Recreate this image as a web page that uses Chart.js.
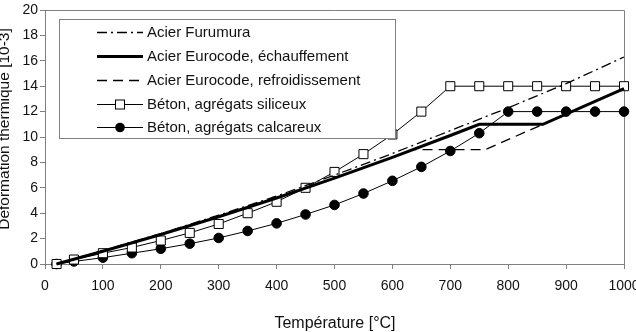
<!DOCTYPE html>
<html>
<head>
<meta charset="utf-8">
<script src="https://cdn.jsdelivr.net/npm/chart.js@4/dist/chart.umd.min.js"></script>
<style>
  body { margin: 0; background: #fff; }
  #wrap { width: 636px; height: 332px; }
</style>
</head>
<body>
<div id="wrap"><canvas id="chart" width="636" height="332"></canvas></div>
<script>
// data (deformation in 10^-3, temperature in °C)
const furumuraT = [20, 100, 200, 300, 400, 500, 600, 700, 800, 900, 1000];
const furumuraVal = [0, 1.05, 2.4, 3.85, 5.35, 7.0, 8.7, 10.5, 12.3, 14.2, 16.3];

const heatT = [20, 100, 200, 300, 400, 500, 600, 700, 750, 860, 1000];
const heatVal = [0, 1.0, 2.32, 3.72, 5.2, 6.76, 8.4, 10.12, 11.0, 11.0, 13.8];

const coolT = [20, 100, 200, 300, 400, 500, 600, 636, 760, 860, 1000];
const coolVal = [0, 1.0, 2.32, 3.72, 5.2, 6.76, 8.4, 9.0, 9.0, 11.0, 13.8];

const betonT = [20, 50, 100, 150, 200, 250, 300, 350, 400, 450, 500, 550, 600, 650, 700, 750, 800, 850, 900, 950, 1000];
const siliceuxVal = [0, 0.35, 0.85, 1.3, 1.85, 2.45, 3.15, 4.0, 4.9, 6.0, 7.25, 8.65, 10.2, 12.0, 14, 14, 14, 14, 14, 14, 14];
const calcaireVal = [0, 0.2, 0.5, 0.85, 1.2, 1.6, 2.05, 2.6, 3.2, 3.9, 4.65, 5.55, 6.55, 7.65, 8.9, 10.3, 12, 12, 12, 12, 12];

const legendLabels = [
    'Acier Furumura',
    'Acier Eurocode, échauffement',
    'Acier Eurocode, refroidissement',
    'Béton, agrégats siliceux',
    'Béton, agrégats calcareux'
];

const FONT = '"Liberation Sans", Arial, sans-serif';
const AXIS_GREY = '#808080';

function toPoints(xs, ys) {
    return xs.map((x, i) => ({ x: x, y: ys[i] }));
}

function makeLine(label, xs, ys, extra) {
    return Object.assign({
        label: label,
        data: toPoints(xs, ys),
        borderColor: '#000',
        backgroundColor: '#000',
        borderWidth: 1,
        pointRadius: 0,
        tension: 0,
        fill: false,
        clip: false
    }, extra);
}

const datasets = [
    makeLine(legendLabels[0], furumuraT, furumuraVal, { borderDash: [10, 4, 2, 4], borderWidth: 1.3 }),
    makeLine(legendLabels[1], heatT, heatVal, { borderWidth: 3 }),
    makeLine(legendLabels[2], coolT, coolVal, { borderDash: [10, 6], borderWidth: 1.3 }),
    makeLine(legendLabels[3], betonT, siliceuxVal, {
        pointStyle: 'rect', pointRadius: 6.4, pointBackgroundColor: '#fff',
        pointBorderColor: '#000', pointBorderWidth: 1
    }),
    makeLine(legendLabels[4], betonT, calcaireVal, {
        pointStyle: 'circle', pointRadius: 4.8, pointBackgroundColor: '#000',
        pointBorderColor: '#000', pointBorderWidth: 1
    })
];

// frame, axis titles and the boxed legend
const decorPlugin = {
    id: 'decor',
    beforeDatasetsDraw(chart) {
        const ctx = chart.ctx;
        const a = chart.chartArea;
        ctx.save();
        ctx.strokeStyle = AXIS_GREY;
        ctx.lineWidth = 1;
        ctx.beginPath();
        ctx.moveTo(a.left, a.top + 0.5);
        ctx.lineTo(a.right + 0.5, a.top + 0.5);
        ctx.lineTo(a.right + 0.5, a.bottom);
        ctx.stroke();

        ctx.fillStyle = '#111';
        ctx.font = '16px ' + FONT;
        ctx.textAlign = 'center';
        ctx.textBaseline = 'alphabetic';
        ctx.fillText('Température [°C]', 335, 328);

        ctx.translate(9, 129);
        ctx.rotate(-Math.PI / 2);
        ctx.font = '15.5px ' + FONT;
        ctx.fillText('Déformation thermique [10-3]', 0, 0);
        ctx.restore();
    },
    afterDraw(chart) {
        const ctx = chart.ctx;
        ctx.save();
        ctx.fillStyle = '#fff';
        ctx.fillRect(60, 20, 335, 118);
        ctx.strokeStyle = AXIS_GREY;
        ctx.lineWidth = 1;
        ctx.strokeRect(59.5, 19.5, 336, 119);

        const x0 = 97, x1 = 143;
        const rowY = [32, 56, 80, 104, 127];
        ctx.font = '15px ' + FONT;
        ctx.textBaseline = 'middle';
        ctx.textAlign = 'left';
        chart.data.datasets.forEach((ds, i) => {
            const y = rowY[i] + 0.5;
            ctx.strokeStyle = ds.borderColor;
            ctx.lineWidth = ds.borderWidth;
            ctx.setLineDash(ds.borderDash || []);
            ctx.beginPath();
            ctx.moveTo(x0, y);
            ctx.lineTo(x1, y);
            ctx.stroke();
            ctx.setLineDash([]);
            const cx = (x0 + x1) / 2;
            if (ds.pointStyle === 'rect') {
                ctx.fillStyle = '#fff';
                ctx.fillRect(cx - 4.5, y - 4.5, 9, 9);
                ctx.strokeStyle = '#000';
                ctx.lineWidth = 1;
                ctx.strokeRect(cx - 4.5, y - 4.5, 9, 9);
            } else if (ds.pointStyle === 'circle') {
                ctx.fillStyle = '#000';
                ctx.beginPath();
                ctx.arc(cx, y, 4.8, 0, Math.PI * 2);
                ctx.fill();
            }
            ctx.fillStyle = '#111';
            ctx.fillText(ds.label, 147, y);
        });
        ctx.restore();
    }
};

const chart = new Chart(document.getElementById('chart').getContext('2d'), {
    type: 'line',
    data: { datasets: datasets },
    options: {
        responsive: false,
        animation: false,
        events: [],
        layout: { padding: { top: 10, right: 12, left: 0, bottom: 0 } },
        plugins: {
            legend: { display: false },
            tooltip: { enabled: false }
        },
        scales: {
            x: {
                type: 'linear',
                min: 0,
                max: 1000,
                ticks: {
                    stepSize: 100,
                    maxRotation: 0,
                    autoSkip: false,
                    padding: 9,
                    color: '#111',
                    font: { family: FONT, size: 14 },
                    callback: (v) => String(v)
                },
                grid: { drawOnChartArea: false, tickLength: 5, color: AXIS_GREY },
                border: { color: AXIS_GREY },
                afterFit(scale) {
                    scale.height = 68;
                    scale.paddingLeft = 0;
                    scale.paddingRight = 0;
                }
            },
            y: {
                min: 0,
                max: 20,
                ticks: {
                    stepSize: 2,
                    padding: 2,
                    color: '#111',
                    font: { family: FONT, size: 14 },
                    callback: (v) => String(v)
                },
                grid: { drawOnChartArea: false, tickLength: 5, color: AXIS_GREY },
                border: { color: AXIS_GREY },
                afterFit(scale) {
                    scale.width = 45;
                    scale.paddingTop = 0;
                    scale.paddingBottom = 0;
                }
            }
        }
    },
    plugins: [decorPlugin]
});
</script>
</body>
</html>
